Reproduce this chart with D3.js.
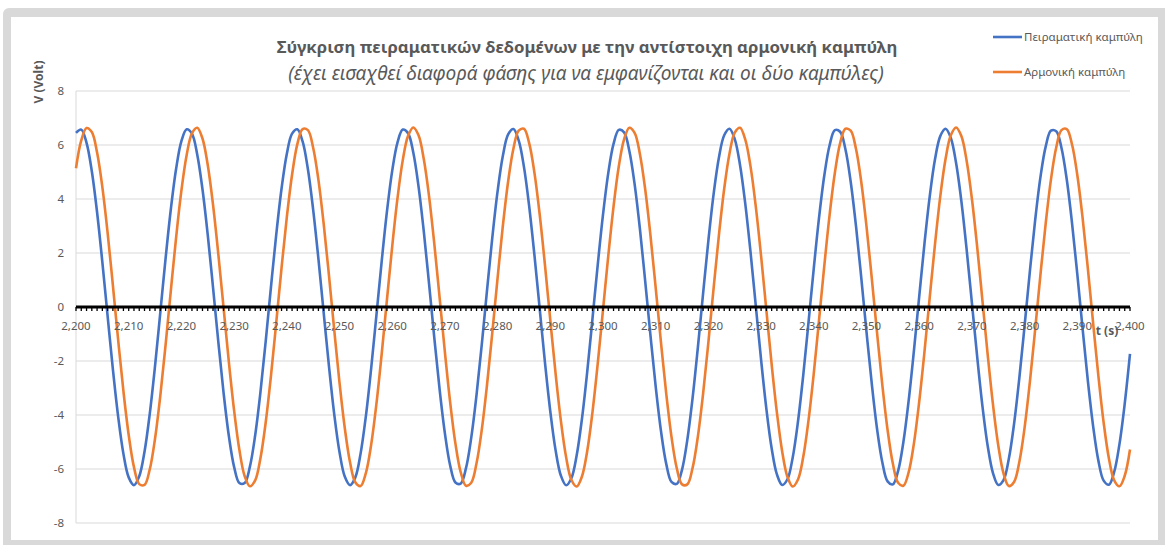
<!DOCTYPE html>
<html><head><meta charset="utf-8">
<script src="https://cdn.jsdelivr.net/npm/d3@7"></script>
<style>body{margin:0;background:#fff}svg{display:block}</style>
</head><body><svg id="c" width="1165" height="545"></svg>
<script>
const chartTitle = "Σύγκριση πειραματικών δεδομένων με την αντίστοιχη αρμονική καμπύλη";
const chartSubtitle = "(έχει εισαχθεί διαφορά φάσης για να εμφανίζονται και οι δύο καμπύλες)";
const seriesNames = ["Πειραματική καμπύλη", "Αρμονική καμπύλη"];
const seriesColors = ["#4472C4", "#ED7D31"];
const yAxisTitle = "V (Volt)";
const xAxisTitle = "t (s)";
const xTickValues = [2200, 2210, 2220, 2230, 2240, 2250, 2260, 2270, 2280, 2290, 2300, 2310, 2320, 2330, 2340, 2350, 2360, 2370, 2380, 2390, 2400];
const yTickValues = [-8, -6, -4, -2, 0, 2, 4, 6, 8];
const timeStart = 2200, timeStep = 1;

const experimental = [
6.45,6.57,6.08,5.03,3.51,1.66,-0.34,-2.31,-4.06,-5.44,
-6.31,-6.60,-6.27,-5.36,-3.95,-2.18,-0.20,1.80,3.63,5.12,
6.14,6.58,6.42,5.65,4.36,2.67,0.73,-1.28,-3.17,-4.77,
-5.92,-6.52,-6.52,-5.91,-4.75,-3.15,-1.26,0.75,2.69,4.38,
5.67,6.42,6.58,6.13,5.11,3.61,1.78,-0.22,-2.19,-3.97,
-5.37,-6.28,-6.60,-6.31,-5.43,-4.05,-2.29,-0.32,1.68,3.53,
5.04,6.09,6.57,6.44,5.72,4.46,2.79,0.85,-1.16,-3.06,
-4.68,-5.87,-6.50,-6.54,-5.97,-4.84,-3.26,-1.38,0.63,2.58,
4.29,5.60,6.39,6.59,6.17,5.19,3.72,1.90,-0.09,-2.08,
-3.87,-5.30,-6.24,-6.60,-6.34,-5.50,-4.15,-2.41,-0.44,1.56,
3.42,4.96,6.04,6.56,6.47,5.78,4.55,2.90,0.97,-1.04,
-2.95,-4.59,-5.81,-6.48,-6.55,-6.02,-4.92,-3.37,-1.50,0.51,
2.47,4.20,5.54,6.36,6.60,6.22,5.26,3.82,2.02,0.03,
-1.96,-3.77,-5.23,-6.20,-6.59,-6.38,-5.57,-4.24,-2.52,-0.56,
1.44,3.32,4.88,5.99,6.55,6.49,5.84,4.64,3.01,1.10,
-0.92,-2.84,-4.51,-5.75,-6.46,-6.57,-6.07,-5.00,-3.47,-1.62,
0.38,2.35,4.10,5.47,6.33,6.60,6.26,5.33,3.92,2.13,
0.15,-1.84,-3.67,-5.15,-6.15,-6.59,-6.41,-5.63,-4.33,-2.63,
-0.69,1.32,3.21,4.80,5.94,6.53,6.51,5.89,4.72,3.11,
1.22,-0.79,-2.73,-4.41,-5.69,-6.43,-6.58,-6.11,-5.08,-3.58,
-1.74];

const harmonic = [
5.14,6.17,6.63,6.48,5.72,4.44,2.75,0.80,-1.22,-3.12,
-4.74,-5.93,-6.56,-6.59,-6.01,-4.87,-3.28,-1.40,0.62,2.58,
4.31,5.63,6.43,6.64,6.24,5.26,3.79,1.97,-0.02,-2.02,
-3.83,-5.29,-6.26,-6.64,-6.42,-5.60,-4.27,-2.54,-0.57,1.44,
3.32,4.90,6.03,6.59,6.55,5.90,4.71,3.08,1.17,-0.85,
-2.80,-4.48,-5.75,-6.49,-6.63,-6.15,-5.11,-3.60,-1.75,0.26,
2.24,4.02,5.43,6.33,6.65,6.36,5.47,4.09,2.32,0.34,
-1.67,-3.53,-5.06,-6.12,-6.62,-6.51,-5.79,-4.54,-2.87,-0.94,
1.08,3.01,4.65,5.86,6.53,6.60,6.06,4.96,3.40,1.53,
-0.49,-2.46,-4.20,-5.56,-6.40,-6.65,-6.28,-5.34,-3.90,-2.10,
-0.11,1.89,3.72,5.21,6.21,6.64,6.45,5.67,4.37,2.66,
0.71,-1.31,-3.21,-4.81,-5.97,-6.57,-6.57,-5.96,-4.80,-3.20,
-1.30,0.72,2.67,4.38,5.68,6.46,6.64,6.20,5.20,3.71,
1.88,-0.12,-2.12,-3.91,-5.35,-6.29,-6.65,-6.39,-5.55,-4.19,
-2.45,-0.47,1.54,3.41,4.97,6.07,6.60,6.53,5.86,4.64,
2.99,1.07,-0.95,-2.88,-4.55,-5.80,-6.51,-6.62,-6.12,-5.05,
-3.51,-1.66,0.36,2.33,4.10,5.48,6.36,6.65,6.33,5.42,
4.01,2.23,0.24,-1.77,-3.61,-5.12,-6.16,-6.63,-6.48,-5.74,
-4.47,-2.78,-0.84,1.18,3.09,4.72,5.91,6.55,6.59,6.02,
4.89,3.31,1.43,-0.59,-2.55,-4.28,-5.61,-6.42,-6.64,-6.25,
-5.28];

const svg = d3.select("#c");
const FONT = "'Noto Sans', 'Open Sans', sans-serif";
const TXT = "#595959";

// frame
svg.append("rect").attr("x", 3).attr("y", 8).attr("width", 1175).attr("height", 560).attr("rx", 6).attr("fill", "#d9d9d9");
svg.append("rect").attr("x", 11).attr("y", 17).attr("width", 1147).attr("height", 523).attr("fill", "#fff");

const x = d3.scaleLinear().domain([2200, 2400]).range([76, 1130]);
const y = d3.scaleLinear().domain([-8, 8]).range([523, 91]);

// gridlines
svg.append("g").selectAll("line").data(yTickValues.filter(v => v !== 0)).join("line")
  .attr("x1", x(2200)).attr("x2", x(2400))
  .attr("y1", d => y(d)).attr("y2", d => y(d))
  .attr("stroke", "#d9d9d9").attr("stroke-width", 1);
svg.append("line").attr("x1", x(2200)).attr("x2", x(2200)).attr("y1", y(8)).attr("y2", y(-8))
  .attr("stroke", "#d9d9d9").attr("stroke-width", 1);

// y labels
svg.append("g").selectAll("text").data(yTickValues).join("text")
  .attr("x", 64).attr("y", d => y(d) + 4).attr("text-anchor", "end")
  .attr("font-family", FONT).attr("font-size", 11.5).attr("fill", TXT)
  .text(d => d);

// series
const times = experimental.map((_, i) => timeStart + i * timeStep);
const lineGen = d3.line().x((d, i) => x(times[i])).y(d => y(d)).curve(d3.curveCatmullRom);
svg.append("path").datum(experimental).attr("d", lineGen)
  .attr("fill", "none").attr("stroke", seriesColors[0]).attr("stroke-width", 2.6).attr("stroke-linejoin", "round");
svg.append("path").datum(harmonic).attr("d", lineGen)
  .attr("fill", "none").attr("stroke", seriesColors[1]).attr("stroke-width", 2.6).attr("stroke-linejoin", "round");

// x axis (at y=0)
const minorTicks = d3.range(2200, 2401, 1);
svg.append("g").selectAll("line").data(minorTicks).join("line")
  .attr("x1", d => x(d)).attr("x2", d => x(d))
  .attr("y1", y(0)).attr("y2", y(0) + 4)
  .attr("stroke", "#000").attr("stroke-width", 1.3);
svg.append("line").attr("x1", x(2200)).attr("x2", x(2400)).attr("y1", y(0)).attr("y2", y(0))
  .attr("stroke", "#000").attr("stroke-width", 3);
svg.append("g").selectAll("text").data(xTickValues).join("text")
  .attr("x", d => x(d)).attr("y", y(0) + 23).attr("text-anchor", "middle")
  .attr("font-family", FONT).attr("font-size", 11.5).attr("fill", TXT)
  .text(d => d3.format(",")(d));

// axis titles
svg.append("text").attr("transform", "translate(43,82) rotate(-90)").attr("text-anchor", "middle")
  .attr("font-family", FONT).attr("font-size", 12).attr("font-weight", "bold").attr("fill", TXT).text(yAxisTitle);
svg.append("text").attr("x", 1107).attr("y", 335).attr("text-anchor", "middle")
  .attr("font-family", FONT).attr("font-size", 12).attr("font-weight", "bold").attr("fill", TXT).text(xAxisTitle);

// titles fitted to width
function fitText(sel, target) {
  const w = sel.node().getComputedTextLength();
  const fs = parseFloat(sel.attr("font-size"));
  sel.attr("font-size", fs * target / w);
}
const t1 = svg.append("text").attr("x", 587).attr("y", 53).attr("text-anchor", "middle")
  .attr("font-family", FONT).attr("font-size", 16).attr("font-weight", "bold").attr("fill", TXT).text(chartTitle);
fitText(t1, 621);
const t2 = svg.append("text").attr("x", 586).attr("y", 80).attr("text-anchor", "middle")
  .attr("font-family", FONT).attr("font-size", 16).attr("font-style", "italic").attr("fill", TXT).text(chartSubtitle);
fitText(t2, 596);

// legend
const leg = svg.append("g").selectAll("g").data(seriesNames).join("g")
  .attr("transform", (d, i) => `translate(993,${[37, 72][i]})`);
leg.append("line").attr("x1", 0).attr("x2", 29).attr("y1", 0).attr("y2", 0)
  .attr("stroke", (d, i) => seriesColors[i]).attr("stroke-width", 2.6);
leg.append("text").attr("x", 31).attr("y", 4).attr("font-family", FONT).attr("font-size", 11.5).attr("fill", TXT).text(d => d);
</script></body></html>
